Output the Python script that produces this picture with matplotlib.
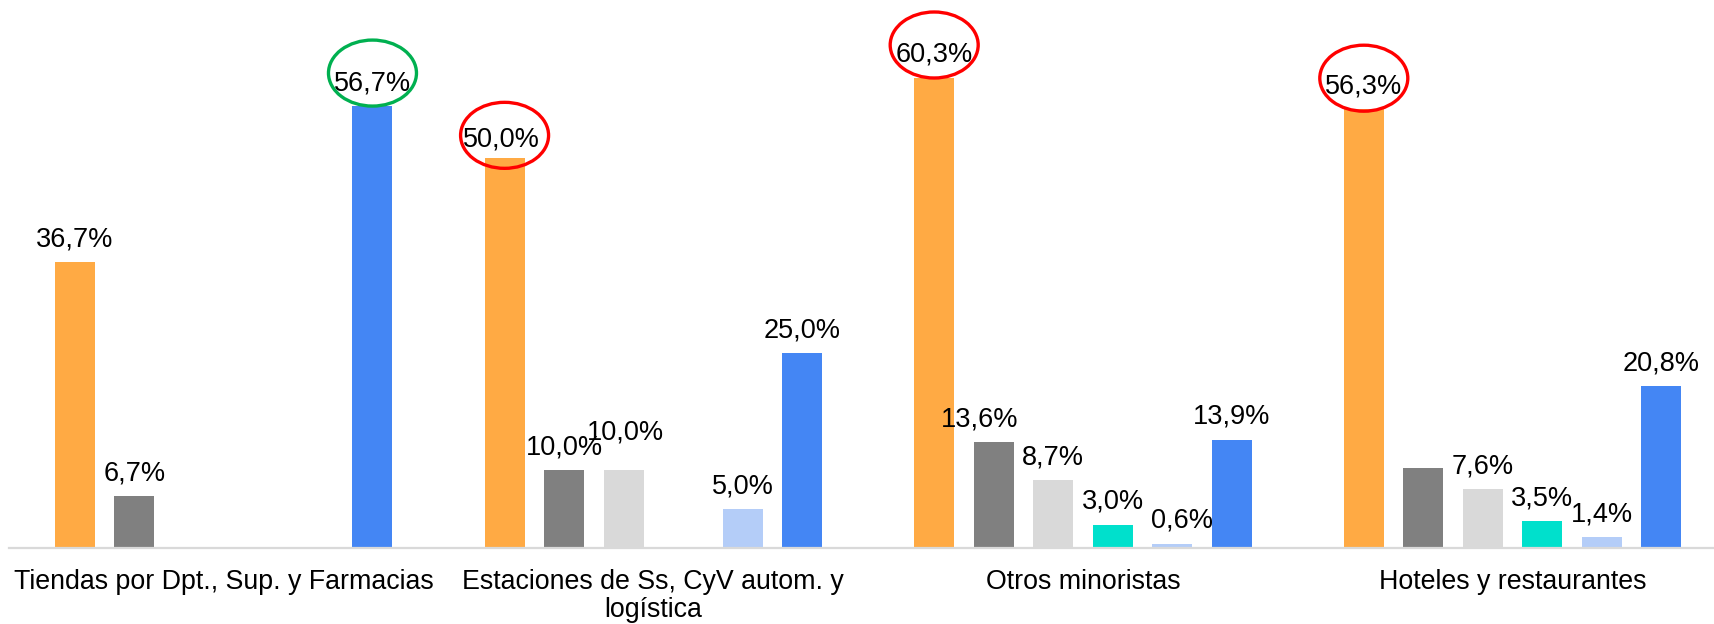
import matplotlib.pyplot as plt
from matplotlib.patches import Ellipse
import numpy as np

plt.rcParams['font.family'] = ['Liberation Sans', 'DejaVu Sans']

categories = ['Tiendas por Dpt., Sup. y Farmacias',
              'Estaciones de Ss, CyV autom. y\nlogística',
              'Otros minoristas',
              'Hoteles y restaurantes']
orange = [36.7, 50.0, 60.3, 56.3]
dark_gray = [6.7, 10.0, 13.6, 10.3]
light_gray = [0.0, 10.0, 8.7, 7.6]
teal = [0.0, 0.0, 3.0, 3.5]
light_blue = [0.0, 5.0, 0.6, 1.4]
blue = [56.7, 25.0, 13.9, 20.8]

series = [orange, dark_gray, light_gray, teal, light_blue, blue]
colors = ['#FFAA44', '#808080', '#D9D9D9', '#00E0CC', '#B4CDF8', '#4486F4']

# labels Excel hid / moved to dodge collisions (group, series) -> (dx, dy) px
hidden = [(3, 1)]
nudge = {(1, 2): (2, 15), (2, 1): (-14, 0), (2, 4): (10, 0), (1, 0): (-3, -4)}
# circled labels: (group, series, colour, centre height above bar in px)
circles = [(0, 5, '#00B050', 33), (1, 0, '#FF0000', 23),
           (2, 0, '#FF0000', 33), (3, 0, '#FF0000', 31)]

period = 7.22
width = 0.672
xg = np.arange(len(categories)) * period

fig = plt.figure(figsize=(17.14, 6.24), dpi=100)
ax = fig.add_axes([0.0052, 0.1213, 1.0026, 0.8787])

for j, (vals, c) in enumerate(zip(series, colors)):
    x = xg + (j - 2.5)
    for g, v in enumerate(vals):
        if v <= 0:
            continue
        ax.bar(x[g], v, width=width, color=c, zorder=2)
        if (g, j) in hidden:
            continue
        dx, dy = nudge.get((g, j), (0, 0))
        ax.annotate(f'{v:.1f}%'.replace('.', ','), (x[g], v),
                    xytext=(dx, 16 + dy), textcoords='offset pixels',
                    ha='center', va='baseline', fontsize=19.5, zorder=4)

ax.set_xlim(-period / 2, xg[-1] + period / 2)
ax.set_ylim(0, 70.3)

# pixel -> data scale
p0 = ax.transData.transform((0, 0))
p1 = ax.transData.transform((1, 1))
ppx, ppy = p1[0] - p0[0], p1[1] - p0[1]
for g, j, c, h in circles:
    v = series[j][g]
    e = Ellipse((xg[g] + (j - 2.5), v + h / ppy), 88 / ppx, 66 / ppy,
                fill=False, edgecolor=c, linewidth=2.4, zorder=5, clip_on=False)
    ax.add_patch(e)

ax.set_xticks(xg)
ax.set_xticklabels(categories, fontsize=19.3, linespacing=1.1)
ax.tick_params(axis='x', length=0, pad=15)
ax.set_yticks([])
for s in ['top', 'right', 'left']:
    ax.spines[s].set_visible(False)
ax.spines['bottom'].set_color('#D9D9D9')
ax.spines['bottom'].set_linewidth(1.6)

fig.savefig('out.png', dpi=100)
